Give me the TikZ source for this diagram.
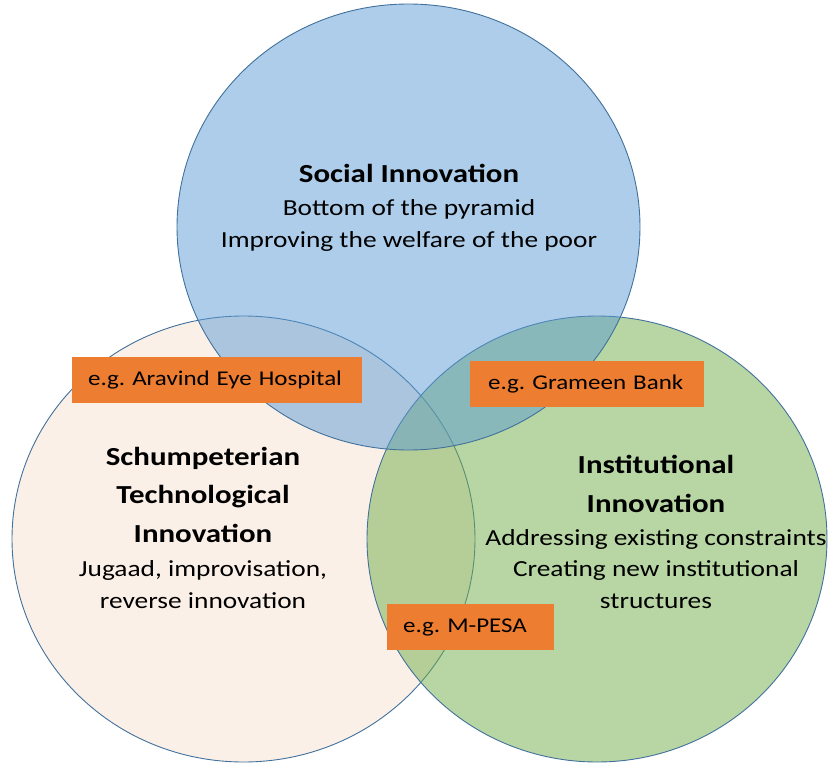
\documentclass[tikz,border=0pt]{standalone}
\usepackage{fontspec}
\setmainfont{Carlito}[FakeStretch=1.19]
\frenchspacing
\definecolor{socblue}{HTML}{5B9BD5}
\definecolor{instgreen}{HTML}{70AD47}
\definecolor{schpeach}{HTML}{F8E1D1}
\definecolor{rimblue}{HTML}{41719C}
\definecolor{egorange}{HTML}{ED7D31}
\begin{document}
\begin{tikzpicture}[x=1pt, y=-1pt, line join=round]
	\tikzset{set/.style={draw=rimblue, line width=0.9pt, fill opacity=0.5},
		titletext/.style={font=\fontsize{26}{38.5}\selectfont\bfseries, align=center, inner sep=0pt, anchor=base},
		bodytext/.style={font=\fontsize{23}{31.5}\selectfont, align=center, inner sep=0pt, anchor=base},
		egbox/.style={fill=egorange, inner xsep=16pt, inner ysep=0pt, minimum height=46pt, align=left, anchor=north west, font=\fontsize{21}{25}\selectfont}}
	\useasboundingbox (0,0) rectangle (831,763);
	% the three sets
	\draw[set, fill=schpeach] (243.5,539) ellipse [x radius=231.5pt, y radius=223pt];
	\draw[set, fill=instgreen] (597,539) ellipse [x radius=230pt, y radius=223pt];
	\draw[set, fill=socblue] (408.5,227) ellipse [x radius=231.5pt, y radius=223pt];
	% labels (base = last line)
	\node[titletext] (soctitle) at (409,182) {Social Innovation};
	\node[bodytext] (socbody) at (409,247) {Bottom of the pyramid\\Improving the welfare of the poor};
	\node[titletext] (schtitle) at (203,542) {Schumpeterian\\Technological\\Innovation};
	\node[bodytext] (schbody) at (203,608) {Jugaad, improvisation,\\reverse innovation};
	\node[titletext] (insttitle) at (656,512) {Institutional\\Innovation};
	\node[bodytext] (instbody) at (656,608) {Addressing existing constraints\\Creating new institutional\\structures};
	% examples
	\node[egbox, text width=258pt] (aravind) at (72,357) {e.g. Aravind Eye Hospital};
	\node[egbox, inner xsep=18pt, text width=198pt] (grameen) at (470,361) {e.g. Grameen Bank};
	\node[egbox, text width=135pt] (mpesa) at (387,604) {e.g. M-PESA};
\end{tikzpicture}
\end{document}
